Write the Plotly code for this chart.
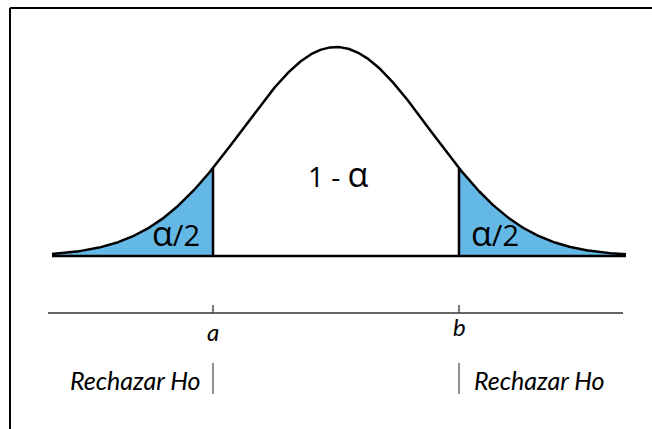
import numpy as np
import plotly.graph_objects as go

# Diagram parameters (pixel-space values)
center_x = 336.0
sigma_px = 93.5
peak_height = 209.0
baseline_y = 256.0
x_start, x_end = 52.0, 626.0
crit_a, crit_b = 213.0, 459.0
crit_labels = ["a", "b"]
alpha_sym = "α"
reject_label = "Rechazar Ho"

def curve(x):
    return baseline_y - peak_height * np.exp(-0.5 * ((x - center_x) / sigma_px) ** 2)

xs = np.linspace(x_start, x_end, 600)
ys = curve(xs)

fill_color = "#64B8E6"
fig = go.Figure()

# left tail
xl = np.linspace(x_start, crit_a, 200)
fig.add_trace(go.Scatter(x=list(xl) + [crit_a, x_start], y=list(curve(xl)) + [baseline_y, baseline_y],
                         fill="toself", fillcolor=fill_color, line=dict(width=0), mode="lines",
                         hoverinfo="skip"))
# right tail
xr = np.linspace(crit_b, x_end, 200)
fig.add_trace(go.Scatter(x=list(xr) + [x_end, crit_b], y=list(curve(xr)) + [baseline_y, baseline_y],
                         fill="toself", fillcolor=fill_color, line=dict(width=0), mode="lines",
                         hoverinfo="skip"))
# curve
fig.add_trace(go.Scatter(x=xs, y=ys, mode="lines", line=dict(color="black", width=2.5), hoverinfo="skip"))
# baseline
fig.add_trace(go.Scatter(x=[x_start, x_end], y=[baseline_y, baseline_y], mode="lines",
                         line=dict(color="black", width=2.5), hoverinfo="skip"))
# critical verticals
for cx in (crit_a, crit_b):
    fig.add_trace(go.Scatter(x=[cx, cx], y=[baseline_y, curve(cx)], mode="lines",
                             line=dict(color="black", width=2.5), hoverinfo="skip"))

shapes = []
# frame
shapes.append(dict(type="line", x0=10, x1=652, y0=8, y1=8, line=dict(color="black", width=2)))
shapes.append(dict(type="line", x0=10, x1=10, y0=8, y1=429, line=dict(color="black", width=2)))
# axis
axis_y = 313
shapes.append(dict(type="line", x0=48, x1=623, y0=axis_y, y1=axis_y, line=dict(color="#333", width=1.3)))
for cx in (crit_a, crit_b):
    shapes.append(dict(type="line", x0=cx, x1=cx, y0=axis_y - 8, y1=axis_y, line=dict(color="#333", width=1.3)))
    shapes.append(dict(type="line", x0=cx, x1=cx, y0=363, y1=394, line=dict(color="#555", width=1.3)))

txt_font = "Lato"
greek_font = "Open Sans"
big_alpha = f'<span style="font-size:34px">{alpha_sym}</span>'
tail_text = big_alpha + '<span style="font-size:29px">/2</span>'
center_text = '<span style="font-size:28px">1 - </span>' + big_alpha

ann = []
for cx, lab, yy in zip((crit_a, crit_b), crit_labels, (331, 326)):
    ann.append(dict(x=cx, y=yy, text=f"<i>{lab}</i>", showarrow=False, xanchor="center", yanchor="middle",
                    font=dict(family=txt_font, size=24, color="black")))
ann.append(dict(x=203, y=380, text=f"<i>{reject_label}</i>", showarrow=False, xanchor="right", yanchor="middle",
                font=dict(family=txt_font, size=25, color="black")))
ann.append(dict(x=472, y=380, text=f"<i>{reject_label}</i>", showarrow=False, xanchor="left", yanchor="middle",
                font=dict(family=txt_font, size=25, color="black")))
ann.append(dict(x=176, y=233, text=tail_text, showarrow=False, xanchor="center", yanchor="middle",
                font=dict(family=greek_font, size=29, color="black")))
ann.append(dict(x=495, y=233, text=tail_text, showarrow=False, xanchor="center", yanchor="middle",
                font=dict(family=greek_font, size=29, color="black")))
ann.append(dict(x=338, y=174, text=center_text, showarrow=False, xanchor="center", yanchor="middle",
                font=dict(family=greek_font, size=28, color="black")))

fig.update_layout(width=652, height=429, margin=dict(l=0, r=0, t=0, b=0),
                  paper_bgcolor="white", plot_bgcolor="white", showlegend=False,
                  xaxis=dict(range=[0, 652], visible=False, fixedrange=True),
                  yaxis=dict(range=[429, 0], visible=False, fixedrange=True),
                  shapes=shapes, annotations=ann)
fig.write_html("out.html", config={"displayModeBar": False},
               post_script="document.body.style.margin='0';document.body.style.overflow='hidden';")
